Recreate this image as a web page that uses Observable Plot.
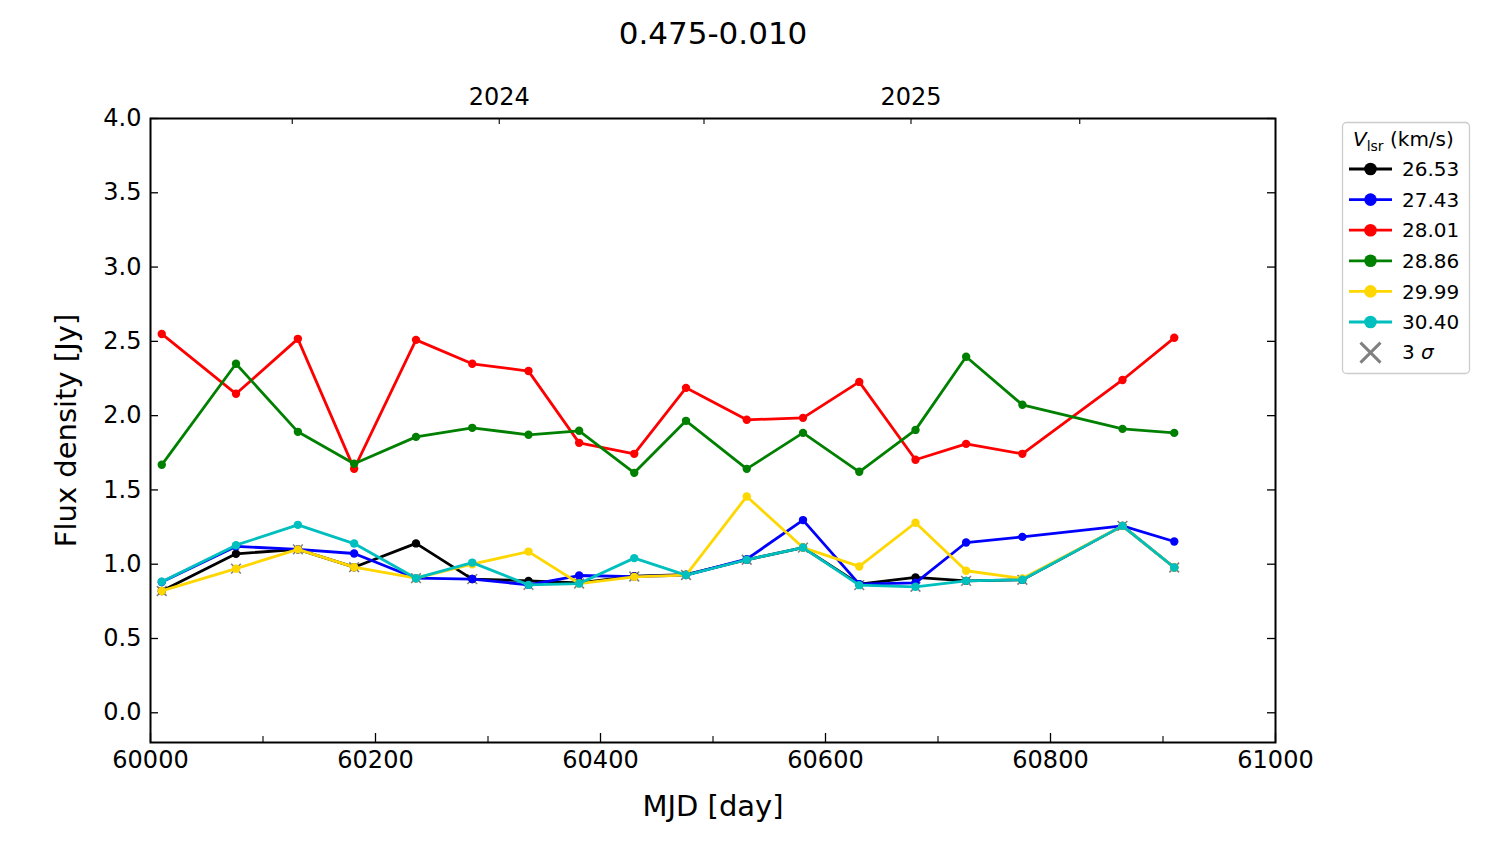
<!DOCTYPE html>
<html><head><meta charset="utf-8">
<script src="https://cdn.jsdelivr.net/npm/d3@7"></script>
<script src="https://cdn.jsdelivr.net/npm/@observablehq/plot@0.6"></script>
<style>
body{margin:0;background:#fff;}
#wrap{position:relative;width:1500px;height:844px;font-family:"DejaVu Sans",sans-serif;}
#wrap svg{position:absolute;left:0;top:0;}
</style></head><body><div id="wrap"></div>
<script>
// ---- data ----
const title = "0.475-0.010";
const mjd = [60010, 60076, 60131, 60181, 60236, 60286, 60336, 60381, 60430, 60476, 60530, 60580, 60630, 60680, 60725, 60775, 60864, 60910];
const velocities = ["26.53", "27.43", "28.01", "28.86", "29.99", "30.40"];
const colors = ["#000000", "#0000ff", "#ff0000", "#008000", "#ffd700", "#00bfbf"];
const flux2653 = [0.82, 1.07, 1.10, 0.98, 1.14, 0.90, 0.888, 0.875, 0.92, 0.93, 1.03, 1.112, 0.866, 0.911, 0.888, 0.895, 1.258, 0.978];
const flux2743 = [0.88, 1.12, 1.10, 1.072, 0.906, 0.90, 0.861, 0.924, 0.917, 0.927, 1.034, 1.297, 0.866, 0.875, 1.146, 1.184, 1.258, 1.153];
const flux2801 = [2.55, 2.147, 2.517, 1.642, 2.51, 2.349, 2.30, 1.817, 1.743, 2.187, 1.972, 1.985, 2.227, 1.703, 1.81, 1.743, 2.24, 2.524];
const flux2886 = [1.669, 2.349, 1.891, 1.676, 1.857, 1.918, 1.871, 1.898, 1.615, 1.965, 1.642, 1.884, 1.622, 1.904, 2.396, 2.073, 1.911, 1.884];
const flux2999 = [0.82, 0.97, 1.10, 0.98, 0.906, 1.00, 1.085, 0.87, 0.915, 0.927, 1.456, 1.112, 0.985, 1.279, 0.956, 0.904, 1.258, 0.978];
const flux3040 = [0.882, 1.128, 1.265, 1.139, 0.906, 1.011, 0.861, 0.87, 1.041, 0.927, 1.03, 1.112, 0.859, 0.848, 0.888, 0.895, 1.258, 0.978];
const sigma3 = [0.82, 0.97, 1.10, 0.98, 0.906, 0.90, 0.861, 0.87, 0.917, 0.927, 1.03, 1.112, 0.859, 0.848, 0.888, 0.895, 1.258, 0.978];
const xTicksMajor = [60000, 60200, 60400, 60600, 60800, 61000];
const xTicksMinor = [60100, 60300, 60500, 60700, 60900];
const yTicks = [0, 0.5, 1.0, 1.5, 2.0, 2.5, 3.0, 3.5, 4.0];
const yearTicks = [60126, 60310, 60492, 60676, 60826];
const yearLabelMjd = [60310, 60676];
const yearLabels = ["2024", "2025"];

// ---- build ----
const series = [flux2653, flux2743, flux2801, flux2886, flux2999, flux3040];
const W = 1500, H = 844, mL = 150, mR = 225, mT = 118, mB = 102;
const plotH = H - mT - mB, plotW = W - mL - mR;
const sigmaRows = mjd.map((m, j) => ({mjd: m, flux: sigma3[j]}));
const yearRows = yearLabelMjd.map((m, i) => ({mjd: m, label: yearLabels[i]}));

const seriesMarks = series.flatMap((vals, i) => {
  const rows = vals.map((v, j) => ({mjd: mjd[j], flux: v}));
  return [
    Plot.line(rows, {x: "mjd", y: "flux", stroke: colors[i], strokeWidth: 2.8}),
    Plot.dot(rows, {x: "mjd", y: "flux", fill: colors[i], r: 4.2})
  ];
});

const chart = Plot.plot({
  width: W, height: H,
  marginLeft: mL, marginRight: mR, marginTop: mT, marginBottom: mB,
  style: {fontFamily: "DejaVu Sans", background: "white", overflow: "visible", color: "black"},
  x: {domain: [60000, 61000], type: "linear"},
  y: {domain: [-0.2, 4.0], type: "linear"},
  marks: [
    Plot.dot(sigmaRows, {x: "mjd", y: "flux", symbol: "times", r: 4.5, stroke: "#808080", strokeWidth: 1.6}),
    ...seriesMarks,
    // inward ticks
    Plot.tickX(xTicksMajor, {x: d => d, insetTop: plotH - 9, stroke: "black", strokeWidth: 1.3}),
    Plot.tickX(xTicksMinor, {x: d => d, insetTop: plotH - 6, stroke: "black", strokeWidth: 1.1}),
    Plot.tickX(yearTicks, {x: d => d, insetBottom: plotH - 6, stroke: "black", strokeWidth: 1.1}),
    Plot.tickY(yTicks, {y: d => d, insetRight: plotW - 8, stroke: "black", strokeWidth: 1.3}),
    Plot.tickY(yTicks, {y: d => d, insetLeft: plotW - 8, stroke: "black", strokeWidth: 1.3}),
    Plot.frame({stroke: "black", strokeWidth: 2}),
    // tick labels
    Plot.axisX(xTicksMajor, {anchor: "bottom", tickSize: 0, tickPadding: 8, fontSize: 24, tickFormat: d => String(d), label: null}),
    Plot.axisY(yTicks, {anchor: "left", tickSize: 0, tickPadding: 9, fontSize: 24, tickFormat: d3.format(".1f"), label: null}),
    Plot.text(yearRows, {x: "mjd", text: "label", frameAnchor: "top", dy: -31, fontSize: 24}),
    // titles
    Plot.text([title], {frameAnchor: "top", dy: -97, fontSize: 31}),
    Plot.text(["MJD [day]"], {frameAnchor: "bottom", dy: 73, fontSize: 29}),
    Plot.text(["Flux density [Jy]"], {frameAnchor: "left", textAnchor: "middle", dx: -84, rotate: -90, fontSize: 29})
  ]
});
const wrap = document.getElementById("wrap");
wrap.appendChild(chart);

// ---- legend ----
const lg = d3.create("svg").attr("width", W).attr("height", H)
  .style("font-family", "DejaVu Sans").style("pointer-events", "none");
lg.append("rect").attr("x", 1342.5).attr("y", 122.5).attr("width", 127).attr("height", 251)
  .attr("rx", 4).attr("fill", "white").attr("fill-opacity", 0.8).attr("stroke", "#cccccc").attr("stroke-width", 1.3);
const lt = lg.append("text").attr("x", 1353).attr("y", 146).attr("font-size", 20);
lt.append("tspan").attr("font-style", "italic").text("V");
lt.append("tspan").attr("font-size", 14).attr("dy", 5).text("lsr");
lt.append("tspan").attr("dy", -5).text(" (km/s)");
velocities.forEach((v, i) => {
  const y = 169 + i * 30.6;
  lg.append("line").attr("x1", 1349).attr("x2", 1392).attr("y1", y).attr("y2", y)
    .attr("stroke", colors[i]).attr("stroke-width", 2.8);
  lg.append("circle").attr("cx", 1370.5).attr("cy", y).attr("r", 6.3).attr("fill", colors[i]);
  lg.append("text").attr("x", 1402).attr("y", y).attr("dy", "0.36em").attr("font-size", 20).text(v);
});
{
  const y = 169 + 6 * 30.6;
  const s = 10;
  lg.append("path").attr("d", `M${1370.5 - s},${y - s}L${1370.5 + s},${y + s}M${1370.5 - s},${y + s}L${1370.5 + s},${y - s}`)
    .attr("stroke", "#808080").attr("stroke-width", 3);
  const t = lg.append("text").attr("x", 1402).attr("y", y).attr("dy", "0.3em").attr("font-size", 20);
  t.append("tspan").text("3 ");
  t.append("tspan").attr("font-style", "italic").text("σ");
}
wrap.appendChild(lg.node());
</script></body></html>
